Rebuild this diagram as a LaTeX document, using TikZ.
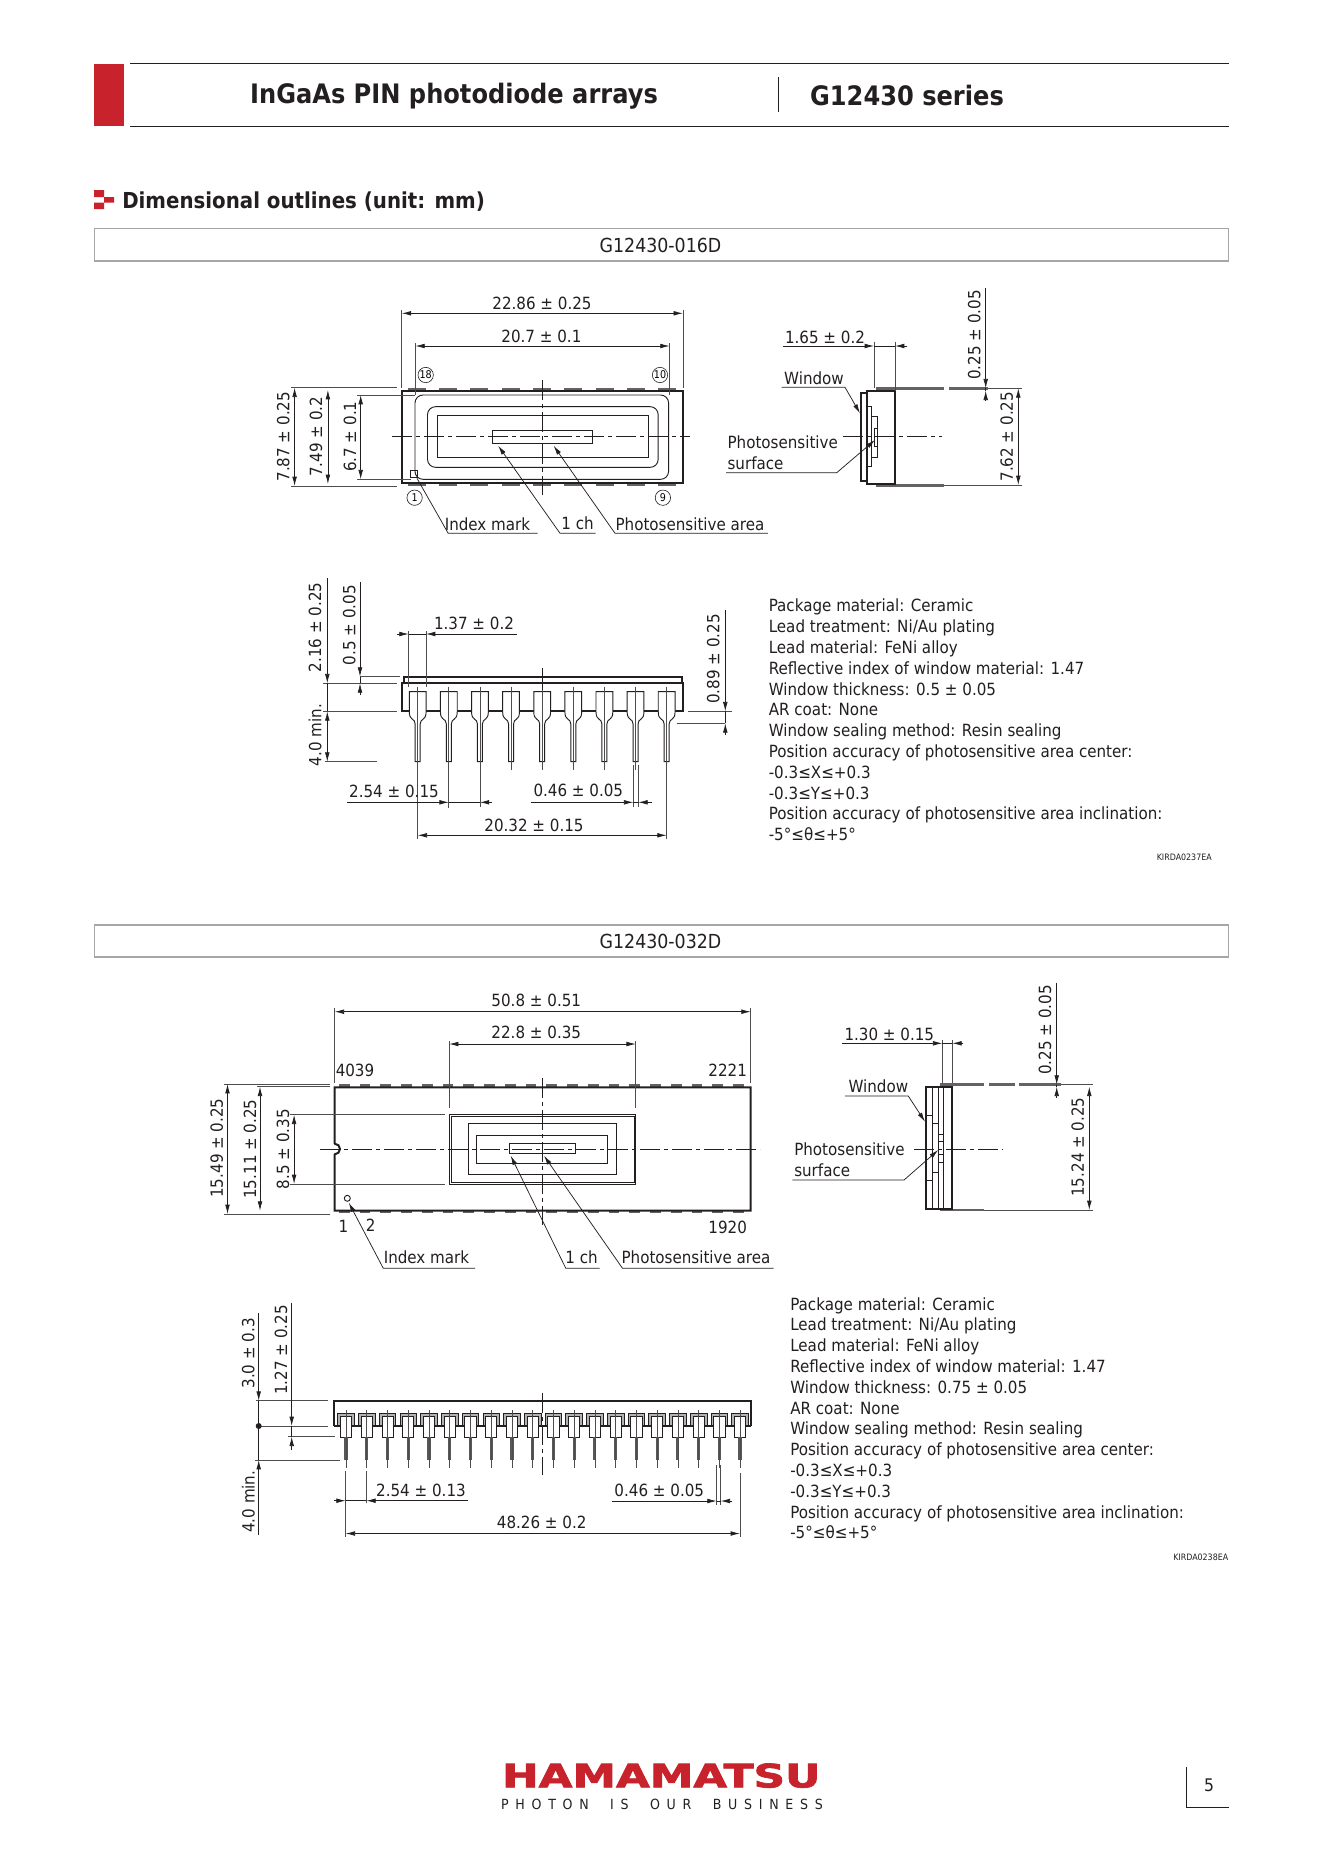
\documentclass[tikz,border=0pt]{standalone}
\usepackage{fontspec}
\setmainfont{DejaVu Sans}[FakeStretch=0.9]
\usetikzlibrary{positioning,arrows.meta}
\definecolor{hamared}{HTML}{C8232C}
\definecolor{inkline}{HTML}{231F20}
\tikzset{>={Latex[width=3.5pt,length=7pt]}}
\tikzset{
	thinline/.style={draw=inkline,line width=0.55pt},
	dimline/.style={thinline},
	extline/.style={draw=inkline!80,line width=0.5pt},
	bodyline/.style={draw=inkline,line width=1.5pt},
	planline/.style={draw=inkline,line width=0.7pt},
	centerline/.style={draw=inkline,line width=0.55pt,dash pattern=on 15pt off 3pt on 3pt off 3pt},
	tabline/.style={fill=inkline!70,draw=none},
	dimtext/.style={font=\fontsize{12.6}{15}\selectfont,text=inkline,inner sep=0pt},
	dimturn/.style={dimtext,rotate=90},
	modeltext/.style={font=\fontsize{14.5}{17}\selectfont,text=inkline,inner sep=0pt},
	headtext/.style={font=\fontsize{20.1}{24}\bfseries\selectfont,text=inkline,inner sep=0pt},
	specblock/.style={font=\fontsize{12.6}{15.6}\selectfont,text=inkline,align=left,anchor=north west,inner sep=0pt},
	kirdatext/.style={font=\fontsize{6.6}{8}\selectfont,text=inkline,anchor=east,inner sep=0pt},
	pinmark/.style={draw=inkline,line width=0.45pt,circle,minimum size=11.5pt,inner sep=0pt,font=\fontsize{8}{9}\selectfont},
	titlebox/.style={draw=black!35,line width=0.9pt},
}
\begin{document}
\begin{tikzpicture}[x=0.75pt,y=-0.75pt]
	\useasboundingbox[fill=white] (0,0) rectangle (1323,1871);

	% page head
	\fill[hamared] (94,63.5) rectangle (124,126);
	\draw[thinline,line width=0.7pt] (130,63.5) -- (1228.5,63.5);
	\draw[thinline,line width=0.7pt] (130,126) -- (1228.5,126);
	\draw[thinline] (778.5,77) -- (778.5,112);
	\node(title) [headtext] at (454,96) {InGaAs PIN photodiode arrays};
	\node(series) [headtext] at (907,95.5) {G12430 series};
	\fill[hamared] (94,190) rectangle (104,197) (104,197) rectangle (114,202.5) (94,202.5) rectangle (104,209);
	\node(section) [font=\fontsize{16.5}{20}\bfseries\selectfont,text=inkline,inner sep=0pt,anchor=west] at (122,201.5) {Dimensional outlines (unit: mm)};

	\draw[titlebox] (94.5,228.5) rectangle (1228.5,261);
	\node(modelA) [modeltext] at (660.5,245) {G12430-016D};

	% first package, top view
	\foreach \i in {0,...,8} {
		\pgfmathsetmacro\cx{416.8+31.3*\i}
		\fill[tabline] (\cx-9,388.3) rectangle (\cx+9,391);
		\fill[tabline] (\cx-9,482.5) rectangle (\cx+9,485.7);
	}
	\draw[bodyline] (401.8,390.7) rectangle (682.9,482.7);
	\draw[planline,rounded corners=6pt] (415,395) rectangle (668.6,479.3);
	\draw[planline,rounded corners=6pt] (427.5,406.7) rectangle (658.2,467.3);
	\draw[planline] (437.5,415.7) rectangle (648.2,457.3);
	\draw[planline] (492.9,430.3) rectangle (592.1,443.3);
	\draw[planline] (410.7,470) rectangle (417.1,477.3);
	\draw[centerline] (392,436.7) -- (690,436.7);
	\draw[centerline] (542.5,380) -- (542.5,495);
	\node(pinE) [pinmark] at (425.7,375) {18};
	\node(pinJ) [pinmark] at (660,375) {10};
	\node(pinA) [pinmark] at (414.6,497.7) {1};
	\node(pinI) [pinmark] at (662.9,497.7) {9};

	\draw[extline] (401.8,310) -- (401.8,388);
	\draw[extline] (682.9,310) -- (682.9,388);
	\draw[dimline,<->] (401.8,313.3) -- (682.9,313.3);
	\node(dimA) [dimtext] at (542,303) {22.86 ± 0.25};
	\draw[extline] (415.4,343) -- (415.4,395);
	\draw[extline] (669.6,343) -- (669.6,395);
	\draw[dimline,<->] (415.4,346) -- (669.6,346);
	\node(dimB) [dimtext] at (541.4,336) {20.7 ± 0.1};
	\draw[extline] (291,387.7) -- (397,387.7);
	\draw[extline] (291,486) -- (397,486);
	\draw[dimline,<->] (294.6,387.7) -- (294.6,486);
	\node(dimC) [dimturn] at (283.2,436.7) {7.87 ± 0.25};
	\draw[dimline,<->] (327.9,390) -- (327.9,484);
	\node(dimD) [dimturn] at (316,436.7) {7.49 ± 0.2};
	\draw[extline] (357,395) -- (415,395);
	\draw[extline] (357,479.3) -- (410.7,479.3);
	\draw[dimline,<->] (360.7,395) -- (360.7,479.3);
	\node(dimE) [dimturn] at (350,436.7) {6.7 ± 0.1};

	\node(indexA) [dimtext] at (487.5,524) {Index mark};
	\node(chA) [dimtext] at (577.5,523.5) {1 ch};
	\node(areaA) [dimtext] at (690,524) {Photosensitive area};
	\draw[dimline] (537.5,533.3) -- (448.2,533.3) -- (417,478.3);
	\draw[dimline,->] (595.7,533.3) -- (560,533.3) -- (498.2,445.7);
	\draw[dimline,->] (767.9,533.3) -- (615,533.3) -- (553.6,445.7);

	% first package, side view
	\fill[tabline] (876,387.3) rectangle (944.3,389.8);
	\fill[tabline] (949.3,387.3) rectangle (988.3,389.8);
	\fill[tabline] (876,484) rectangle (944.3,486.7);
	\draw[planline] (867.3,406.7) rectangle (871.3,466.7);
	\draw[planline] (871.3,416) rectangle (877.7,457.3);
	\draw[planline] (874,428.3) rectangle (877.7,446.7);
	\draw[bodyline] (867.3,390.7) rectangle (895,484);
	\draw[bodyline] (867.3,393.3) -- (861,393.3) -- (861,481.3) -- (867.3,481.3);
	\draw[centerline] (843.3,436.7) -- (941.7,436.7);
	\draw[extline] (988.3,388.3) -- (1021.7,388.3);
	\draw[extline] (944.3,485) -- (1021.7,485);
	\draw[extline] (874,341.7) -- (874,388);
	\draw[extline] (895,341.7) -- (895,390.7);
	\draw[dimline] (874,346) -- (895,346);
	\draw[dimline,->] (782.7,346) -- (874,346);
	\draw[dimline,->] (907.3,346) -- (895,346);
	\node(dimF) [dimtext] at (825,337.3) {1.65 ± 0.2};
	\node(windowA) [dimtext] at (814,378.3) {Window};
	\draw[dimline,->] (781.7,387.3) -- (845,387.3) -- (860,413.3);
	\node(surfaceA) [dimtext,align=left,anchor=west,font=\fontsize{12.6}{15.8}\selectfont] at (727.3,452.8) {Photosensitive\\surface};
	\draw[dimline,->] (726,472.7) -- (836.7,472.7) -- (875,440);
	\draw[dimline] (985.7,388.3) -- (985.7,390.7);
	\draw[dimline,->] (985.7,288.3) -- (985.7,388.3);
	\draw[dimline,->] (985.7,400) -- (985.7,390.7);
	\node(dimG) [dimturn] at (974.3,335) {0.25 ± 0.05};
	\draw[dimline,<->] (1018.3,388.3) -- (1018.3,485);
	\node(dimH) [dimturn] at (1006.7,436.7) {7.62 ± 0.25};

	% first package, front view
	\draw[bodyline] (404,683.3) -- (404,677.3) -- (681.7,677.3) -- (681.7,683.3);
	\draw[bodyline] (401.7,683.3) rectangle (683.3,710.7);
	\foreach \i in {0,...,8} {
		\pgfmathsetmacro\cx{417.7+31.12*\i}
		\draw[planline,fill=white] (\cx-8.4,691.7) -- (\cx+8.4,691.7) -- (\cx+8.4,712) .. controls (\cx+8.4,721) and (\cx+2.5,718) .. (\cx+2.5,724) -- (\cx+2.5,761.7) -- (\cx-2.5,761.7) -- (\cx-2.5,724) .. controls (\cx-2.5,718) and (\cx-8.4,721) .. (\cx-8.4,712) -- cycle;
		\draw[extline] (\cx,686.7) -- (\cx,770);
	}
	\draw[thinline] (542.3,668.3) -- (542.3,690);
	\draw[extline] (408.7,631) -- (408.7,686.7);
	\draw[extline] (426,631) -- (426,686.7);
	\draw[dimline] (408.7,634) -- (426,634);
	\draw[dimline,->] (397.3,634) -- (408.7,634);
	\draw[dimline,->] (516.7,634) -- (426,634);
	\node(dimI) [dimtext] at (474,623.3) {1.37 ± 0.2};
	\draw[extline] (323.3,683.3) -- (396.7,683.3);
	\draw[extline] (323.3,711.3) -- (396.7,711.3);
	\draw[extline] (325,761.7) -- (376.7,761.7);
	\draw[dimline] (327.3,683.3) -- (327.3,711.3);
	\draw[dimline,->] (327.3,578.3) -- (327.3,683.3);
	\draw[dimline,<->] (327.3,711.3) -- (327.3,761.7);
	\node(dimJ) [dimturn] at (315,627.3) {2.16 ± 0.25};
	\node(dimK) [dimturn] at (315,735) {4.0 min.};
	\draw[extline] (360,676.7) -- (400,676.7);
	\draw[dimline] (360,676.7) -- (360,683.3);
	\draw[dimline,->] (360,581.7) -- (360,676.7);
	\draw[dimline,->] (360,695) -- (360,683.3);
	\node(dimL) [dimturn] at (349.3,625) {0.5 ± 0.05};
	\draw[extline] (688.3,711.3) -- (731.7,711.3);
	\draw[extline] (676.7,723.3) -- (725.3,723.3);
	\draw[dimline] (725.3,711.3) -- (725.3,723.3);
	\draw[dimline,->] (725.3,610) -- (725.3,711.3);
	\draw[dimline,->] (725.3,735) -- (725.3,723.3);
	\node(dimM) [dimturn] at (713.3,659) {0.89 ± 0.25};
	\draw[extline] (417.7,770) -- (417.7,839);
	\draw[extline] (448.8,770) -- (448.8,808);
	\draw[extline] (479.9,770) -- (479.9,806.7);
	\draw[dimline] (448.8,802.3) -- (479.9,802.3);
	\draw[dimline,->] (347.3,802.3) -- (448.8,802.3);
	\draw[dimline,->] (491.7,802.3) -- (479.9,802.3);
	\node(dimN) [dimtext] at (394,791.7) {2.54 ± 0.15};
	\draw[extline] (633.3,765) -- (633.3,806.7);
	\draw[extline] (638.3,765) -- (638.3,806.7);
	\draw[dimline] (633.3,802.3) -- (638.3,802.3);
	\draw[dimline,->] (530.7,802.3) -- (633.3,802.3);
	\draw[dimline,->] (651.7,802.3) -- (638.3,802.3);
	\node(dimO) [dimtext] at (578.3,790.7) {0.46 ± 0.05};
	\draw[extline] (666.7,770) -- (666.7,839);
	\draw[dimline,<->] (417.7,835.3) -- (666.7,835.3);
	\node(dimP) [dimtext] at (534,825) {20.32 ± 0.15};

	\node(specA) [specblock] at (768.5,598.8) {Package material: Ceramic\\Lead treatment: Ni/Au plating\\Lead material: FeNi alloy\\Reflective index of window material: 1.47\\Window thickness: 0.5 ± 0.05\\AR coat: None\\Window sealing method: Resin sealing\\Position accuracy of photosensitive area center:\\-0.3≤X≤+0.3\\-0.3≤Y≤+0.3\\Position accuracy of photosensitive area inclination:\\-5°≤θ≤+5°};
	\node(kirdaA) [kirdatext] at (1212,857) {KIRDA0237EA};

	\draw[titlebox] (94.5,925) rectangle (1228.5,957);
	\node(modelB) [modeltext] at (660.5,941.5) {G12430-032D};

	% second package, top view
	\foreach \i in {0,...,19} {
		\pgfmathsetmacro\cx{344.2+20.75*\i}
		\fill[tabline] (\cx-5.3,1084.3) rectangle (\cx+5.3,1087.5);
		\fill[tabline] (\cx-5.3,1210.5) rectangle (\cx+5.3,1213.3);
	}
	\draw[bodyline] (334.7,1143.7) arc (-90:90:5.3) -- (334.7,1210.7) -- (750.7,1210.7) -- (750.7,1087.3) -- (334.7,1087.3) -- cycle;
	\fill[white] (330,1143.9) rectangle (334,1154.1);
	\draw[planline] (449.1,1114.7) rectangle (635.8,1184);
	\draw[planline] (451,1116) rectangle (634,1182.7);
	\draw[planline] (468.2,1123.3) rectangle (616.7,1174.7);
	\draw[planline] (476.3,1135) rectangle (607.1,1163);
	\draw[planline] (509.6,1143.7) rectangle (575.4,1153.3);
	\draw[planline] (347.3,1198.3) circle (3);
	\draw[centerline] (320,1149) -- (760,1149);
	\draw[centerline] (542.5,1078.3) -- (542.5,1225);

	\draw[extline] (334.7,1008.3) -- (334.7,1083);
	\draw[extline] (750.7,1008.3) -- (750.7,1083);
	\draw[dimline,<->] (334.7,1011.7) -- (750.7,1011.7);
	\node(dimQ) [dimtext] at (536.3,1000.7) {50.8 ± 0.51};
	\draw[extline] (449.1,1041) -- (449.1,1108.3);
	\draw[extline] (635.8,1041) -- (635.8,1108.3);
	\draw[dimline,<->] (449.1,1044) -- (635.8,1044);
	\node(dimR) [dimtext] at (536.3,1032.7) {22.8 ± 0.35};
	\node(noA) [dimtext] at (355,1070) {4039};
	\node(noB) [dimtext] at (727.7,1070) {2221};
	\node(noC) [dimtext] at (343.5,1226) {1};
	\node(noD) [dimtext] at (370.6,1225) {2};
	\node(noE) [dimtext] at (727.7,1227.3) {1920};
	\draw[extline] (224.4,1084) -- (329.7,1084);
	\draw[extline] (224.4,1214) -- (329.7,1214);
	\draw[dimline,<->] (227.5,1084) -- (227.5,1214);
	\node(dimS) [dimturn] at (216.8,1148) {15.49 ± 0.25};
	\draw[extline] (257,1086.7) -- (329.7,1086.7);
	\draw[dimline,<->] (260,1086.7) -- (260,1210.7);
	\node(dimT) [dimturn] at (250,1149) {15.11 ± 0.25};
	\draw[extline] (290.3,1114.7) -- (444.5,1114.7);
	\draw[extline] (290.3,1184) -- (444.5,1184);
	\draw[dimline,<->] (294.1,1114.7) -- (294.1,1184);
	\node(dimU) [dimturn] at (283,1149) {8.5 ± 0.35};

	\node(indexB) [dimtext] at (426.5,1257.7) {Index mark};
	\node(chB) [dimtext] at (581.5,1257.7) {1 ch};
	\node(areaB) [dimtext] at (696,1257.7) {Photosensitive area};
	\draw[dimline,->] (475.1,1268.3) -- (383.3,1268.3) -- (348.8,1202.7);
	\draw[dimline,->] (599.5,1268.3) -- (565.8,1268.3) -- (510.7,1155.7);
	\draw[dimline,->] (773.6,1268.3) -- (622.5,1268.3) -- (544,1155.7);

	% second package, side view
	\fill[tabline] (940,1083.3) rectangle (984,1086);
	\fill[tabline] (989.3,1083.3) rectangle (1015,1086);
	\fill[tabline] (1019.3,1083.3) rectangle (1060.7,1086);
	\fill[tabline] (940,1208.7) rectangle (984,1211.3);
	\draw[planline] (925.7,1115) -- (932.3,1115) (925.7,1180.7) -- (932.3,1180.7);
	\draw[planline] (932.3,1123.3) -- (938.3,1123.3) (932.3,1172.3) -- (938.3,1172.3);
	\draw[planline] (938.3,1134) rectangle (943.3,1162.3);
	\draw[planline] (938.3,1141.7) -- (943.3,1141.7) (938.3,1154.3) -- (943.3,1154.3);
	\draw[planline,line width=1pt] (932.3,1086.7) -- (932.3,1208.7);
	\draw[planline,line width=1pt] (938.3,1086.7) -- (938.3,1208.7);
	\draw[planline,line width=1pt] (943.3,1086.7) -- (943.3,1208.7);
	\draw[bodyline] (925.7,1086.7) rectangle (952.3,1208.7);
	\draw[centerline] (914.3,1149) -- (1002.7,1149);
	\draw[extline] (1060.7,1084.7) -- (1093.3,1084.7);
	\draw[extline] (984,1210) -- (1093.3,1210);
	\draw[extline] (942.3,1040) -- (942.3,1083);
	\draw[extline] (952.3,1040) -- (952.3,1083);
	\draw[dimline] (942.3,1043.3) -- (952.3,1043.3);
	\draw[dimline,->] (841.7,1043.3) -- (942.3,1043.3);
	\draw[dimline,->] (963.3,1043.3) -- (952.3,1043.3);
	\node(dimV) [dimtext] at (889.3,1034) {1.30 ± 0.15};
	\node(windowB) [dimtext] at (878.3,1086) {Window};
	\draw[dimline,->] (845,1096) -- (908.3,1096) -- (925,1121.7);
	\node(surfaceB) [dimtext,align=left,anchor=west,font=\fontsize{12.6}{15.8}\selectfont] at (794,1159.5) {Photosensitive\\surface};
	\draw[dimline,->] (792.3,1180) -- (904,1180) -- (938.3,1150);
	\draw[dimline] (1056.7,1084.7) -- (1056.7,1086.7);
	\draw[dimline,->] (1056.7,982.7) -- (1056.7,1084.7);
	\draw[dimline,->] (1056.7,1097.7) -- (1056.7,1086.7);
	\node(dimW) [dimturn] at (1045,1030) {0.25 ± 0.05};
	\draw[dimline,<->] (1089.3,1086.7) -- (1089.3,1210);
	\node(dimX) [dimturn] at (1077.7,1147) {15.24 ± 0.25};

	% second package, front view
	\foreach \i in {0,...,19} {
		\pgfmathsetmacro\cx{346+20.74*\i}
		\draw[thinline,fill=black!30] (\cx-8.3,1426) -- (\cx-8.3,1413.5) -- (\cx+8.3,1413.5) -- (\cx+8.3,1426) -- cycle;
	}
	\draw[bodyline] (334.3,1426) -- (334.3,1400.7) -- (751,1400.7) -- (751,1426);
	\draw[bodyline] (334.3,1426) -- (751,1426);
	\foreach \i in {0,...,19} {
		\pgfmathsetmacro\cx{346+20.74*\i}
		\draw[thinline,fill=white] (\cx-5.6,1416.5) rectangle (\cx+5.6,1437.3);
		\fill[inkline!75] (\cx-1.6,1437.3) rectangle (\cx+1.6,1460);
		\draw[extline] (\cx,1410) -- (\cx,1468);
	}
	\draw[centerline] (542.3,1393.3) -- (542.3,1475);
	\draw[extline] (256,1400.7) -- (328.3,1400.7);
	\draw[extline] (258.7,1426) -- (328.3,1426);
	\draw[extline] (255,1460) -- (340,1460);
	\draw[dimline] (258.7,1400.7) -- (258.7,1460);
	\draw[dimline,->] (258.7,1313.3) -- (258.7,1400.7);
	\draw[dimline,->] (258.7,1535) -- (258.7,1460);
	\fill[inkline] (258.7,1426) circle (3);
	\node(dimY) [dimturn] at (248.3,1353.3) {3.0 ± 0.3};
	\node(dimZ) [dimturn] at (248.3,1501.7) {4.0 min.};
	\draw[extline] (288.3,1436.7) -- (335,1436.7);
	\draw[dimline] (291.7,1426) -- (291.7,1436.7);
	\draw[dimline,->] (291.7,1302.7) -- (291.7,1426);
	\draw[dimline,->] (291.7,1450) -- (291.7,1436.7);
	\node(dimAA) [dimturn] at (281,1350) {1.27 ± 0.25};
	\draw[extline] (345.7,1470.7) -- (345.7,1536.7);
	\draw[extline] (366.3,1470.7) -- (366.3,1503);
	\draw[dimline] (345.7,1500.7) -- (366.3,1500.7);
	\draw[dimline,->] (334,1500.7) -- (345.7,1500.7);
	\draw[dimline,->] (468.3,1500.7) -- (366.3,1500.7);
	\node(dimAB) [dimtext] at (421,1490) {2.54 ± 0.13};
	\draw[extline] (716.7,1465) -- (716.7,1505);
	\draw[extline] (720.7,1465) -- (720.7,1505);
	\draw[dimline] (716.7,1501) -- (720.7,1501);
	\draw[dimline,->] (611.7,1501) -- (716.7,1501);
	\draw[dimline,->] (732.3,1501) -- (720.7,1501);
	\node(dimAC) [dimtext] at (659.3,1490) {0.46 ± 0.05};
	\draw[extline] (740,1472.7) -- (740,1536.7);
	\draw[dimline,<->] (345.7,1533.5) -- (740,1533.5);
	\node(dimAD) [dimtext] at (541.7,1522.7) {48.26 ± 0.2};

	\node(specB) [specblock] at (790,1297) {Package material: Ceramic\\Lead treatment: Ni/Au plating\\Lead material: FeNi alloy\\Reflective index of window material: 1.47\\Window thickness: 0.75 ± 0.05\\AR coat: None\\Window sealing method: Resin sealing\\Position accuracy of photosensitive area center:\\-0.3≤X≤+0.3\\-0.3≤Y≤+0.3\\Position accuracy of photosensitive area inclination:\\-5°≤θ≤+5°};
	\node(kirdaB) [kirdatext] at (1228.5,1557) {KIRDA0238EA};

	% page foot
	\node(logo) [text=hamared,inner sep=0pt] at (661.3,1775.6) {\resizebox{238.8pt}{18pt}{\bfseries\addfontfeature{FakeBold=2}HAMAMATSU}};
	\node(motto) [font=\fontsize{10.5}{12}\selectfont\addfontfeature{LetterSpace=48},text=inkline,inner sep=0pt] at (662,1804.4) {PHOTON\ \ IS\ \ OUR\ \ BUSINESS};
	\node(pageno) [font=\fontsize{13}{15}\selectfont,text=inkline,inner sep=0pt] at (1209,1785.5) {5};
	\draw[thinline] (1186.6,1766.5) -- (1186.6,1807) -- (1228.5,1807);
\end{tikzpicture}
\end{document}
